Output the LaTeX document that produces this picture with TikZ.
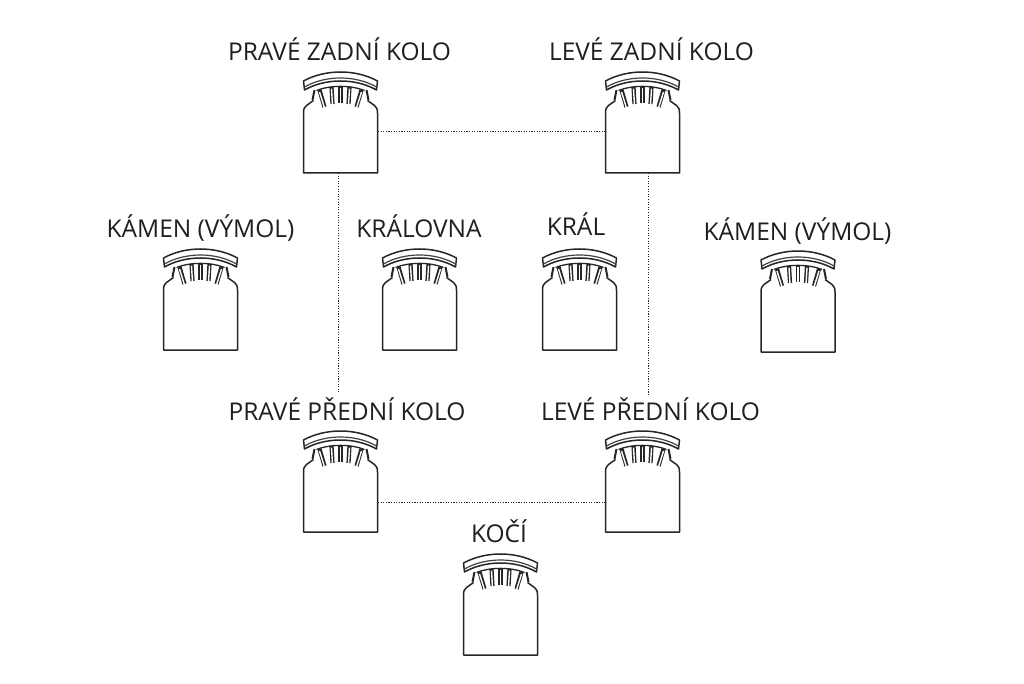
\documentclass[tikz,border=0pt]{standalone}
\usepackage{fontspec}
\setmainfont{Open Sans}
\begin{document}
\begin{tikzpicture}[x=1pt,y=-1pt,
  seatarea/.style={minimum width=75pt,minimum height=68pt,inner sep=0pt,outer sep=0pt},
  seatline/.style={draw=black!85,line width=1.5pt,line join=round},
  seatthin/.style={draw=black!75,line width=1.2pt},
  dots/.style={draw=black!85,line width=.9pt,dash pattern=on 1.1pt off 1.5pt},
  lab/.style={font=\fontsize{24.5}{27}\selectfont,text=black!88,inner sep=0pt,anchor=base},
  pics/seat/.style={code={
    % body: origin at bottom centre, y grows downwards
    \draw[seatline] (-27,-72.5) -- (-34,-67.5) .. controls (-36,-66) and (-37,-64) .. (-37,-60) -- (-37,0) -- (37,0) -- (37,-60) .. controls (37,-64) and (36,-66) .. (34,-67.5) -- (27,-72.5);
    % back rail
    \draw[seatline,fill=white] (-37,-92) .. controls (-15,-104) and (15,-104) .. (37,-92) -- (36,-83) .. controls (15,-95) and (-15,-95) .. (-36,-83) -- cycle;
    \draw[seatthin] (-36,-86) .. controls (-15,-98) and (15,-98) .. (36,-86);
    % slats
    \foreach \a/\b/\e in {-21/-16/-66,-9/-8/-69,0/0/-70,9/8/-69,21/16/-66}{
      \draw[draw=black!85,line width=4.2pt] (\a,{-87+\a*\a*0.009}) -- (\b,\e);
      \draw[draw=white,line width=1.4pt] (\a,{-85+\a*\a*0.009}) -- (\b,\e+1);
    }
    % cross bar over the slats
    \draw[draw=black!85,line width=1.3pt] (-24,-82.5) .. controls (-10,-88) and (10,-88) .. (24,-82.5);
    % curved ends next to the slats
    \draw[draw=black!85,line width=2pt] (-26,-83) -- (-28,-73);
    \draw[draw=black!85,line width=2pt] (26,-83) -- (28,-73);
  }}]
\useasboundingbox (0,0) rectangle (1024,684);
\fill[white] (0,0) rectangle (1024,684);

\node[seatarea] (pz) at (340.5,139) {};
\node[seatarea] (lz) at (642.5,139) {};
\node[seatarea] (k1) at (200.5,316) {};
\node[seatarea] (kr) at (419.5,316) {};
\node[seatarea] (kl) at (579.5,316) {};
\node[seatarea] (k2) at (798,318) {};
\node[seatarea] (pp) at (340.5,498) {};
\node[seatarea] (lp) at (642.5,498) {};
\node[seatarea] (ko) at (500.5,621) {};

\foreach \n in {pz,lz,k1,kr,kl,k2,pp,lp,ko}
  \pic at (\n.south) {seat};

\node[lab] (tpz) at (339.5,61) {PRAVÉ ZADNÍ KOLO};
\node[lab] (tlz) at (651.5,61) {LEVÉ ZADNÍ KOLO};
\node[lab] (tk1) at (200.5,238) {KÁMEN (VÝMOL)};
\node[lab] (tkr) at (419,238) {KRÁLOVNA};
\node[lab] (tkl) at (576,236) {KRÁL};
\node[lab] (tk2) at (797.5,241) {KÁMEN (VÝMOL)};
\node[lab] (tpp) at (347,420) {PRAVÉ PŘEDNÍ KOLO};
\node[lab] (tlp) at (650.5,420) {LEVÉ PŘEDNÍ KOLO};
\node[lab] (tko) at (499,542) {KOČÍ};

\coordinate (vl) at (338,392);
\coordinate (vr) at (648,396);
\draw[dots] ([yshift=8pt]pz.east) -- ([yshift=8pt]lz.west);
\draw[dots] ([yshift=-4pt]pp.east) -- ([yshift=-4pt]lp.west);
\draw[dots] (pz.south -| vl) -- (vl);
\draw[dots] (lz.south -| vr) -- (vr);
\end{tikzpicture}
\end{document}
